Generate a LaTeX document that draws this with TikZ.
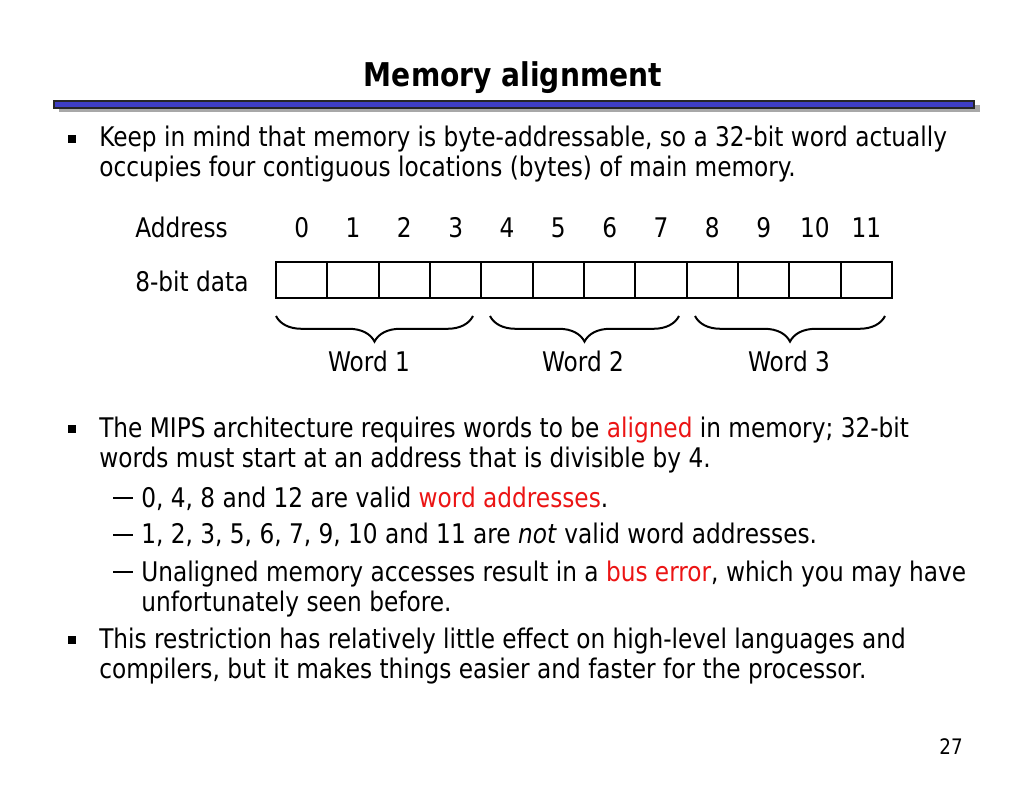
\documentclass[tikz,border=0pt]{standalone}
\usepackage{fontspec}
\setmainfont{DejaVu Sans}[FakeStretch=0.86]
\usetikzlibrary{decorations.pathreplacing}
\definecolor{slidered}{RGB}{235,20,20}
\definecolor{barblue}{RGB}{62,62,196}
\definecolor{shadowgray}{RGB}{168,168,168}

\begin{document}
\begin{tikzpicture}[
        x=0.703125pt, y=-0.703125pt, % 1 единица = 1 пиксель
        txt/.style = {anchor=base west, inner sep=0pt, font=\fontsize{19}{23}\selectfont},
        num/.style = {anchor=base, inner sep=0pt, font=\fontsize{19}{23}\selectfont},
        cell/.style = {draw, line width=1.4pt, minimum width=36.09pt, minimum height=25.3pt, inner sep=0pt}, % Ячейка памяти
        bul/.style = {fill, inner sep=0pt, minimum size=5.3pt},
        subdash/.style = {fill, inner sep=0pt, minimum width=13.5pt, minimum height=0.8pt},
        wbrace/.style = {decorate, decoration={brace, mirror, amplitude=18pt}, line width=1.4pt},
        hl/.style = {color=slidered},
    ]
    \useasboundingbox (0,0) rectangle (1024,791);

    % Заголовок и линейка
    \node[anchor=base, inner sep=0pt, font=\fontsize{23}{27}\selectfont\bfseries] (title) at (513,87) {Memory alignment};
    \fill[shadowgray] (59,105) rectangle (980,112);
    \draw[fill=barblue, draw=black!85, line width=0.8pt] (54,101) rectangle (974,108);

    % Первый пункт
    \node[bul] (b1) at (72,139) {};
    \node[txt] (t1a) at (99,147) {Keep in mind that memory is byte-addressable, so a 32-bit word actually};
    \node[txt] (t1b) at (99,177) {occupies four contiguous locations (bytes) of main memory.};

    % Адреса и ячейки
    \node[txt] (addr) at (135,238) {Address};
    \node[txt] (data) at (135,292) {8-bit data};
    \foreach \i in {0,...,11} {
        \node[cell] (c\i) at ({301.67+51.33*\i},280) {};
        \node[num] (n\i) at ({301.67+51.33*\i},238) {\i};
    }

    % Фигурные скобки слов
    \draw[wbrace] (276,316) -- (473,316);
    \draw[wbrace] (490,316) -- (679,316);
    \draw[wbrace] (695,316) -- (885,316);
    \node[num] (w1) at (369,372) {Word 1};
    \node[num] (w2) at (583,372) {Word 2};
    \node[num] (w3) at (789,372) {Word 3};

    % Второй пункт
    \node[bul] (b2) at (72,429) {};
    \node[txt] (t2a) at (99,437) {The MIPS architecture requires words to be \textcolor{slidered}{aligned} in memory; 32-bit};
    \node[txt] (t2b) at (99,468) {words must start at an address that is divisible by 4.};
    \node[subdash] (d1) at (123,498) {};
    \node[txt] (s1) at (141,507) {0, 4, 8 and 12 are valid \textcolor{slidered}{word addresses}.};
    \node[subdash] (d2) at (123,535) {};
    \node[txt] (s2) at (141,543) {1, 2, 3, 5, 6, 7, 9, 10 and 11 are \textit{not} valid word addresses.};
    \node[subdash] (d3) at (123,572) {};
    \node[txt] (s3a) at (141,581) {Unaligned memory accesses result in a \textcolor{slidered}{bus error}, which you may have};
    \node[txt] (s3b) at (141,611) {unfortunately seen before.};

    % Третий пункт
    \node[bul] (b3) at (72,640) {};
    \node[txt] (t3a) at (99,648) {This restriction has relatively little effect on high-level languages and};
    \node[txt] (t3b) at (99,678) {compilers, but it makes things easier and faster for the processor.};

    % Номер слайда
    \node[anchor=base, inner sep=0pt, font=\fontsize{15}{18}\selectfont] (page) at (951,754) {27};
\end{tikzpicture}
\end{document}
